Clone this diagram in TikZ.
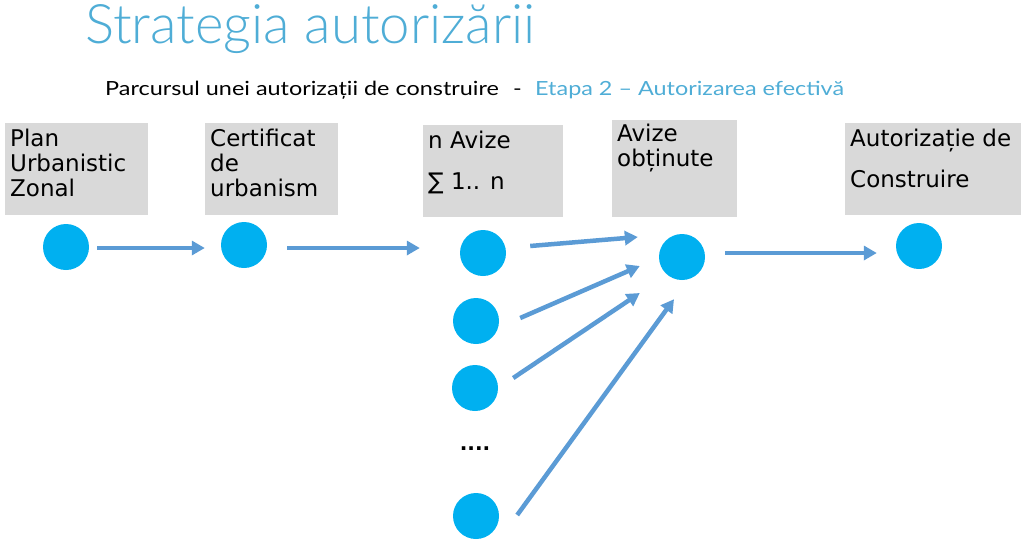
\documentclass[tikz,border=0pt]{standalone}
\usepackage{fontspec}
\setmainfont{DejaVu Sans}
\newfontfamily\titlefont{Lato Light}
\newfontfamily\subfont{Lato}[FakeStretch=1.2]
\usetikzlibrary{arrows.meta,calc}
\definecolor{titleblue}{RGB}{79,173,214}
\definecolor{dotblue}{RGB}{0,176,240}
\definecolor{arrowblue}{RGB}{91,155,213}
\definecolor{panelgray}{RGB}{217,217,217}

\begin{document}
\begin{tikzpicture}[x=1pt, y=-1pt,
    main/.style = {circle, fill=dotblue, minimum size=46pt, inner sep=0pt},
    panel/.style = {fill=panelgray, anchor=north west, inner sep=0pt},
    lbl/.style = {anchor=north west, align=left, inner xsep=5pt, inner ysep=6pt, font=\fontsize{23}{25}\selectfont},
    flow/.style = {draw=arrowblue, line width=4.5pt, -{Triangle[length=13pt, width=14pt]}}]
    \useasboundingbox (0,0) rectangle (1024,542);

    \node[anchor=base west, inner sep=0pt, text=titleblue, font=\titlefont\fontsize{54.5}{60}\selectfont] (title) at (85,43) {Strategia autorizării};
    \node[anchor=base west, inner sep=0pt, font=\subfont\fontsize{19.5}{22}\selectfont] (sub) at (105,95) {Parcursul unei autorizații de construire};
    \node[anchor=base west, inner sep=0pt, font=\subfont\fontsize{19.5}{22}\selectfont] (dash) at (513,95) {-};
    \node[anchor=base west, inner sep=0pt, text=titleblue, font=\subfont\fontsize{19.5}{22}\selectfont] (etapa) at (535,95) {Etapa 2 – Autorizarea efectivă};

    \node[panel, minimum width=143pt, minimum height=92pt] (pz) at (5,123) {};
    \node[lbl] at (pz.north west) {Plan\\Urbanistic\\Zonal};
    \node[panel, minimum width=133pt, minimum height=92pt] (cu) at (205,123) {};
    \node[lbl] at (cu.north west) {Certificat\\de\\urbanism};
    \node[panel, minimum width=140pt, minimum height=92pt] (av) at (423,125) {};
    \node[lbl] at (av.north west) {n Avize\\[16pt]∑ 1.. n};
    \node[panel, minimum width=125pt, minimum height=97pt] (ob) at (612,120) {};
    \node[lbl, inner ysep=4pt] at (ob.north west) {Avize\\obținute};
    \node[panel, minimum width=176pt, minimum height=92pt] (ac) at (845,123) {};
    \node[lbl] at (ac.north west) {Autorizație de\\[16pt]Construire};

    \node[main] (pzc) at (66,247) {};
    \node[main] (cuc) at (244,245) {};
    \node[main] (av1) at (483,253) {};
    \node[main] (av2) at (476,321) {};
    \node[main] (av3) at (475,388) {};
    \node[font=\bfseries\fontsize{20}{22}\selectfont] (dots) at (475,449) {....};
    \node[main] (avn) at (476,516) {};
    \node[main] (obc) at (682,257) {};
    \node[main] (acc) at (919,246) {};

    \draw[flow] ($(pzc.east)+(8,1)$) -- ($(cuc.west)+(-16,3)$);
    \draw[flow] ($(cuc.east)+(20,3)$) -- ($(av1.west)+(-40,-5)$);
    \draw[flow] ($(av1.east)+(24,-7)$) -- ($(obc.west)+(-21,-20)$);
    \draw[flow] ($(av2.east)+(21,-3)$) -- ($(obc.west)+(-19,9)$);
    \draw[flow] ($(av3.east)+(15,-10)$) -- ($(obc.west)+(-19,36)$);
    \draw[flow] ($(avn.east)+(18,-1)$) -- ($(obc.south)+(-8,19)$);
    \draw[flow] ($(obc.east)+(20,-4)$) -- ($(acc.west)+(-19,7)$);
\end{tikzpicture}
\end{document}
